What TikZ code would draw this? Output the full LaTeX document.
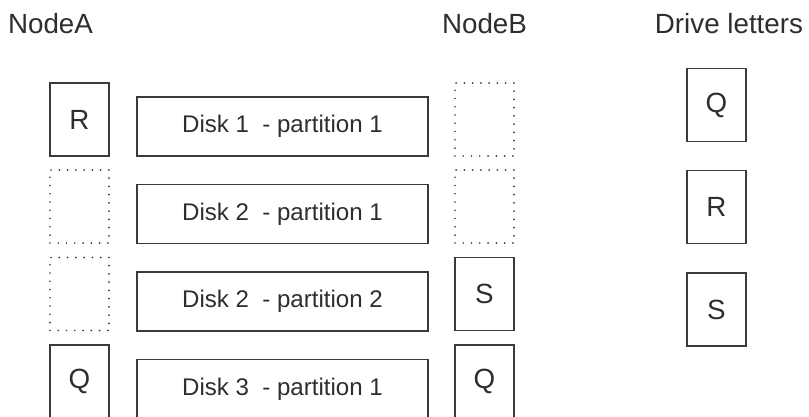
\documentclass[tikz,border=0pt]{standalone}
\usepackage{fontspec}
\setmainfont{Liberation Sans}
\definecolor{linegray}{HTML}{3A3A3A}
\definecolor{textgray}{HTML}{2E2E2E}
\begin{document}
\begin{tikzpicture}[every node/.style={font=\fontsize{15.8}{18}\selectfont, text=textgray},
  letterbox/.style={draw=linegray, line width=0.8pt, minimum width=1.18cm, minimum height=1.46cm, inner sep=0pt},
  emptybox/.style={draw=linegray, line width=1.1pt, line cap=round, dash pattern=on 0pt off 4.7pt, minimum width=1.18cm, minimum height=1.46cm, inner sep=0pt},
  diskbox/.style={draw=linegray, line width=0.8pt, minimum width=5.82cm, minimum height=1.18cm, inner sep=0pt, font=\fontsize{13.7}{16}\selectfont}]
  \useasboundingbox (0,0) rectangle (16.18,-8.34);
  % Kolonneoverskrifter
  \node[anchor=base] (headA) at (1.01,-0.66) {NodeA};
  \node[anchor=base] (headB) at (9.69,-0.66) {NodeB};
  \node[anchor=base] (headD) at (14.58,-0.66) {Drive letters};
  % NodeA
  \node[letterbox] (a1) at (1.59,-2.39) {R};
  \node[emptybox] (a2) at (1.59,-4.13) {};
  \node[emptybox] (a3) at (1.59,-5.88) {};
  \node[letterbox] (a4) at (1.59,-7.63) {Q};
  % Disker
  \node[diskbox] (d1) at (5.65,-2.53) {Disk 1\ \ - partition 1};
  \node[diskbox] (d2) at (5.65,-4.28) {Disk 2\ \ - partition 1};
  \node[diskbox] (d3) at (5.65,-6.03) {Disk 2\ \ - partition 2};
  \node[diskbox] (d4) at (5.65,-7.78) {Disk 3\ \ - partition 1};
  % NodeB
  \node[emptybox] (b1) at (9.69,-2.39) {};
  \node[emptybox] (b2) at (9.69,-4.13) {};
  \node[letterbox] (b3) at (9.69,-5.88) {S};
  \node[letterbox] (b4) at (9.69,-7.63) {Q};
  % Drive letters
  \node[letterbox] (l1) at (14.33,-2.10) {Q};
  \node[letterbox] (l2) at (14.33,-4.14) {R};
  \node[letterbox] (l3) at (14.33,-6.19) {S};
\end{tikzpicture}
\end{document}
